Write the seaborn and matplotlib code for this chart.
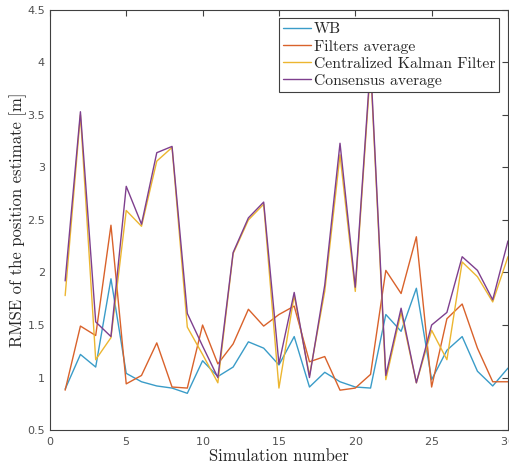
import numpy as np
import pandas as pd
import matplotlib
matplotlib.use("Agg")
import matplotlib.pyplot as plt
import seaborn as sns

sim = list(range(1, 31))
wb = [0.89, 1.22, 1.10, 1.94, 1.04, 0.96, 0.92, 0.90, 0.85, 1.16,
      1.01, 1.10, 1.34, 1.28, 1.12, 1.39, 0.91, 1.05, 0.96, 0.91,
      0.90, 1.60, 1.44, 1.85, 0.98, 1.26, 1.39, 1.06, 0.92, 1.09]
filters_avg = [0.88, 1.49, 1.40, 2.45, 0.94, 1.02, 1.33, 0.91, 0.90, 1.50,
               1.13, 1.32, 1.65, 1.49, 1.60, 1.68, 1.15, 1.20, 0.88, 0.90,
               1.03, 2.02, 1.80, 2.34, 0.91, 1.56, 1.70, 1.28, 0.96, 0.96]
ckf = [1.78, 3.50, 1.17, 1.38, 2.59, 2.44, 3.06, 3.19, 1.48, 1.22,
       0.95, 2.18, 2.50, 2.65, 0.90, 1.78, 1.02, 1.82, 3.12, 1.82,
       3.95, 0.98, 1.62, 0.95, 1.45, 1.17, 2.10, 1.96, 1.72, 2.15]
consensus = [1.92, 3.53, 1.53, 1.39, 2.82, 2.46, 3.14, 3.20, 1.61, 1.30,
             1.00, 2.19, 2.52, 2.67, 1.13, 1.81, 1.00, 1.88, 3.23, 1.86,
             4.00, 1.02, 1.66, 0.95, 1.50, 1.62, 2.15, 2.02, 1.74, 2.30]

labels = ["WB", "Filters average", "Centralized Kalman Filter", "Consensus average"]
colors = ["#3a9cc8", "#d9622b", "#ecb630", "#7e3f8e"]

df = pd.concat([
    pd.DataFrame({"sim": sim, "rmse": vals, "series": lab})
    for vals, lab in zip([wb, filters_avg, ckf, consensus], labels)
])

sns.set_style("white")
plt.rcParams["axes.formatter.use_mathtext"] = True

fig = plt.figure(figsize=(5.09, 4.68), dpi=100)
ax = fig.add_axes([0.098, 0.081, 0.900, 0.898])

sns.lineplot(data=df, x="sim", y="rmse", hue="series", hue_order=labels,
             palette=dict(zip(labels, colors)), linewidth=1.0, ax=ax,
             estimator=None, sort=False)

ax.set_xlim(0, 30)
ax.set_ylim(0.5, 4.5)
ax.set_xticks([0, 5, 10, 15, 20, 25, 30])
ax.set_yticks([0.5, 1, 1.5, 2, 2.5, 3, 3.5, 4, 4.5])
ax.set_yticklabels(["0.5", "1", "1.5", "2", "2.5", "3", "3.5", "4", "4.5"])
ax.tick_params(direction="in", top=True, right=True, length=4, width=0.8,
               labelsize=8, colors="#404040", labelcolor="#505050")
for s in ax.spines.values():
    s.set_color("#404040")
    s.set_linewidth(0.8)

serif = {"family": "cmr10", "size": 12}
ax.set_xlabel("Simulation number", fontdict=serif, labelpad=1)
ax.set_ylabel("RMSE of the position estimate [m]", fontdict=serif, labelpad=0)

leg = ax.legend(loc="upper right", prop={"family": "cmr10", "size": 11.3},
                frameon=True, fancybox=False, edgecolor="#404040",
                framealpha=1.0,
                labelspacing=0.2, handlelength=1.8, handletextpad=0.2,
                borderpad=0.25, borderaxespad=0.55)
leg.get_frame().set_linewidth(0.8)
leg.set_title(None)

fig.savefig("out.png", dpi=100)
